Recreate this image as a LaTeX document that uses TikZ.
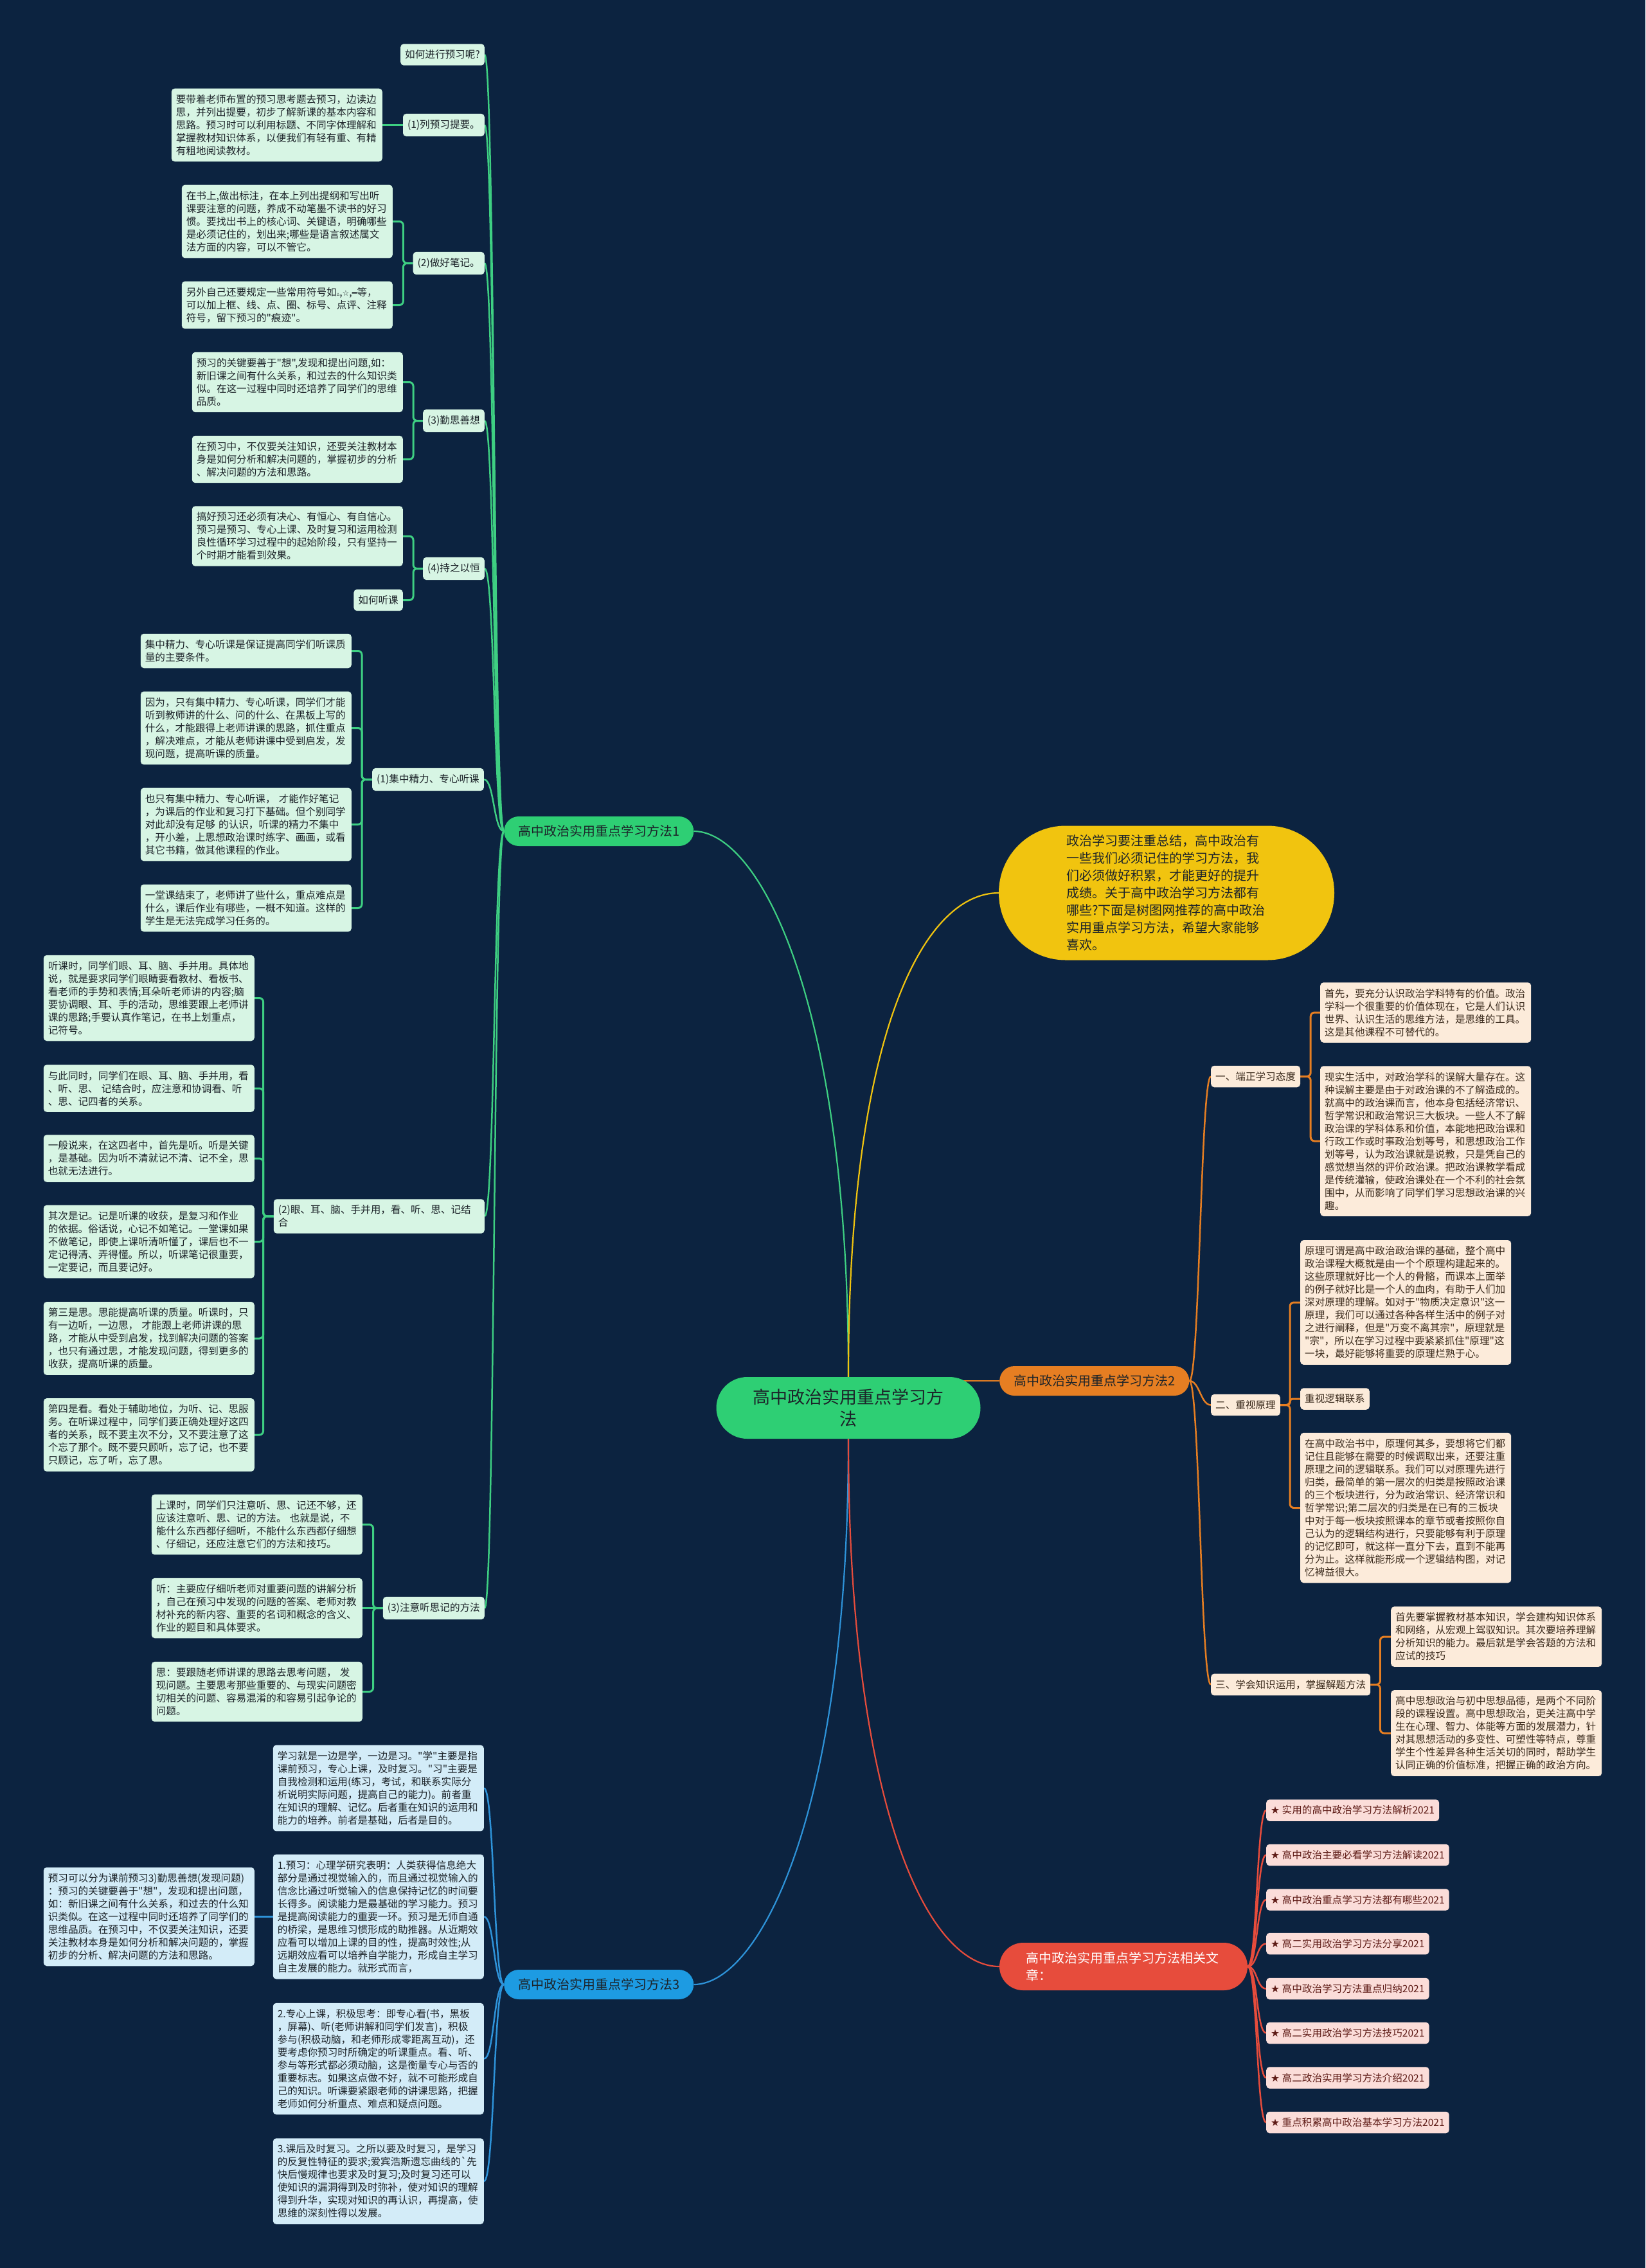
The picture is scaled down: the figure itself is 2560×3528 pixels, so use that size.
\documentclass[tikz,border=0pt]{standalone}
\usepackage{fontspec}
\setmainfont{Noto Sans CJK SC}[Ligatures=TeXOff]
\newfontfamily\symfont{DejaVu Sans}
\usetikzlibrary{positioning}
\definecolor{NavyBg}{HTML}{0C2340}
\definecolor{LeafGreen}{HTML}{D7F5E4}
\definecolor{MintLine}{HTML}{3ECF82}
\definecolor{MainGreen}{HTML}{2ECF74}
\definecolor{GoldFill}{HTML}{F1C40F}
\definecolor{AmberFill}{HTML}{E67E22}
\definecolor{PeachLeaf}{HTML}{FCEBDA}
\definecolor{SkyFill}{HTML}{1D9BE2}
\definecolor{SkyLine}{HTML}{2E93D9}
\definecolor{IceLeaf}{HTML}{D3ECF8}
\definecolor{CoralFill}{HTML}{E74C3C}
\definecolor{RoseLeaf}{HTML}{FBDDD9}
\definecolor{InkDark}{HTML}{1C2329}
\definecolor{InkBrown}{HTML}{3A2A1C}
\definecolor{InkRed}{HTML}{5E1B16}
\newcommand{\leaffont}{\fontsize{15.6pt}{20pt}\selectfont}
\newcommand{\branchfont}{\fontsize{20pt}{27pt}\selectfont}
\newcommand{\rootfont}{\fontsize{27pt}{34pt}\selectfont}
\newcommand{\dvs}[1]{{\symfont #1}}
\pgfdeclarelayer{canvas}
\pgfdeclarelayer{links}
\pgfsetlayers{canvas,links,main}

\begin{document}
\begin{tikzpicture}[x=1pt,y=-1pt,
  box/.style={rounded corners=5pt,inner xsep=7pt,inner ysep=9.5pt,font=\leaffont,align=left,text=InkDark},
  leaf/.style={box,text width=314pt},
  pill/.style={rounded corners=23pt,minimum height=46pt,inner xsep=22pt,inner ysep=4pt,font=\branchfont,text=InkDark},
  gbox/.style={fill=LeafGreen},
  obox/.style={fill=PeachLeaf,text=InkBrown},
  bbox/.style={fill=IceLeaf},
  rbox/.style={fill=RoseLeaf,text=InkRed},
  rootlink/.style={line width=2.2pt},
  link/.style={line width=2.5pt},
  elbow/.style={line width=3pt,rounded corners=6pt}]
  \useasboundingbox (0,0) rectangle (2560,3528);
  \begin{pgfonlayer}{canvas}
    \fill[NavyBg] (0,0) rectangle (2560,3528);
  \end{pgfonlayer}

  \node[fill=MainGreen,text=InkDark,rounded corners=48pt,minimum width=411pt,minimum height=96pt,text width=300pt,align=center,font=\rootfont] (root) at (1320,2190) {高中政治实用重点学习方\\法};
  \node[fill=GoldFill,text=InkDark,rounded corners=104pt,minimum width=522pt,minimum height=209pt,text width=312pt,align=left,font=\branchfont] (intro) at (1815,1389) {政治学习要注重总结，高中政治有\\一些我们必须记住的学习方法，我\\们必须做好积累，才能更好的提升\\成绩。关于高中政治学习方法都有\\哪些?下面是树图网推荐的高中政治\\实用重点学习方法，希望大家能够\\喜欢。};
  \node[pill,fill=MainGreen,anchor=west] (b1) at (784,1293) {高中政治实用重点学习方法1};
  \node[pill,fill=AmberFill,anchor=west] (b2) at (1555,2148) {高中政治实用重点学习方法2};
  \node[pill,fill=SkyFill,anchor=west] (b3) at (784,3087) {高中政治实用重点学习方法3};
  \node[fill=CoralFill,text=white,rounded corners=37pt,minimum width=386pt,minimum height=74pt,text width=304pt,align=left,font=\branchfont] (b4) at (1748,3059) {高中政治实用重点学习方法相关文\\章：};

  \node[box,gbox,anchor=east] (pre) at (754,85) {如何进行预习呢?};
  \node[box,gbox,anchor=east] (p1) at (754,194.5) {(1)列预习提要。};
  \node[leaf,gbox,anchor=east] (p1a) at (595,194.5) {要带着老师布置的预习思考题去预习，边读边\\思，并列出提要，初步了解新课的基本内容和\\思路。预习时可以利用标题、不同字体理解和\\掌握教材知识体系，以便我们有轻有重、有精\\有粗地阅读教材。};
  \node[box,gbox,anchor=east] (p2) at (754,409.5) {(2)做好笔记。};
  \node[leaf,gbox,anchor=east] (p2a) at (611,344.5) {在书上,做出标注，在本上列出提纲和写出听\\课要注意的问题，养成不动笔墨不读书的好习\\惯。要找出书上的核心词、关键语，明确哪些\\是必须记住的，划出来;哪些是语言叙述属文\\法方面的内容，可以不管它。};
  \node[leaf,gbox,anchor=east] (p2b) at (611,474.5) {另外自己还要规定一些常用符号如{\symfont\fontsize{9pt}{20pt}\selectfont ▵},{\symfont\fontsize{12pt}{20pt}\selectfont ☆},{\symfont\fontsize{13pt}{20pt}\selectfont ━}等，\\可以加上框、线、点、圈、标号、点评、注释\\符号，留下预习的"痕迹"。};
  \node[box,gbox,anchor=east] (p3) at (754,654.5) {(3)勤思善想};
  \node[leaf,gbox,anchor=east] (p3a) at (627,594.5) {预习的关键要善于"想",发现和提出问题,如：\\新旧课之间有什么关系，和过去的什么知识类\\似。在这一过程中同时还培养了同学们的思维\\品质。};
  \node[leaf,gbox,anchor=east] (p3b) at (627,714.5) {在预习中，不仅要关注知识，还要关注教材本\\身是如何分析和解决问题的，掌握初步的分析\\、解决问题的方法和思路。};
  \node[box,gbox,anchor=east] (p4) at (754,884.5) {(4)持之以恒};
  \node[leaf,gbox,anchor=east] (p4a) at (627,834) {搞好预习还必须有决心、有恒心、有自信心。\\预习是预习、专心上课、及时复习和运用检测\\良性循环学习过程中的起始阶段，只有坚持一\\个时期才能看到效果。};
  \node[box,gbox,anchor=east] (p4b) at (627,933.5) {如何听课};
  \node[box,gbox,anchor=east] (t1) at (753,1212.5) {(1)集中精力、专心听课};
  \node[leaf,gbox,anchor=east] (t1a) at (547,1012.5) {集中精力、专心听课是保证提高同学们听课质\\量的主要条件。};
  \node[leaf,gbox,anchor=east] (t1b) at (547,1132.5) {因为，只有集中精力、专心听课，同学们才能\\听到教师讲的什么、问的什么、在黑板上写的\\什么，才能跟得上老师讲课的思路，抓住重点\\，解决难点，才能从老师讲课中受到启发，发\\现问题，提高听课的质量。};
  \node[leaf,gbox,anchor=east] (t1c) at (547,1282.5) {也只有集中精力、专心听课， 才能作好笔记\\，为课后的作业和复习打下基础。但个别同学\\对此却没有足够 的认识，听课的精力不集中\\，开小差，上思想政治课时练字、画画，或看\\其它书籍，做其他课程的作业。};
  \node[leaf,gbox,anchor=east] (t1d) at (547,1412.5) {一堂课结束了，老师讲了些什么，重点难点是\\什么，课后作业有哪些，一概不知道。这样的\\学生是无法完成学习任务的。};
  \node[leaf,gbox,anchor=east] (t2) at (754,1892) {(2)眼、耳、脑、手并用，看、听、思、记结\\合};
  \node[leaf,gbox,anchor=east] (t2a) at (396,1552.5) {听课时，同学们眼、耳、脑、手并用。具体地\\说，就是要求同学们眼睛要看教材、看板书、\\看老师的手势和表情;耳朵听老师讲的内容;脑\\要协调眼、耳、手的活动，思维要跟上老师讲\\课的思路;手要认真作笔记，在书上划重点，\\记符号。};
  \node[leaf,gbox,anchor=east] (t2b) at (396,1693) {与此同时，同学们在眼、耳、脑、手并用，看\\、听、思、 记结合时，应注意和协调看、听\\、思、记四者的关系。};
  \node[leaf,gbox,anchor=east] (t2c) at (396,1802) {一般说来，在这四者中，首先是听。听是关键\\，是基础。因为听不清就记不清、记不全，思\\也就无法进行。};
  \node[leaf,gbox,anchor=east] (t2d) at (396,1931.5) {其次是记。记是听课的收获，是复习和作业\\的依据。俗话说，心记不如笔记。一堂课如果\\不做笔记，即使上课听清听懂了，课后也不一\\定记得清、弄得懂。所以，听课笔记很重要，\\一定要记，而且要记好。};
  \node[leaf,gbox,anchor=east] (t2e) at (396,2082) {第三是思。思能提高听课的质量。听课时，只\\有一边听，一边思， 才能跟上老师讲课的思\\路，才能从中受到启发，找到解决问题的答案\\，也只有通过思，才能发现问题，得到更多的\\收获，提高听课的质量。};
  \node[leaf,gbox,anchor=east] (t2f) at (396,2232) {第四是看。看处于辅助地位，为听、记、思服\\务。在听课过程中，同学们要正确处理好这四\\者的关系，既不要主次不分，又不要注意了这\\个忘了那个。既不要只顾听，忘了记，也不要\\只顾记，忘了听，忘了思。};
  \node[box,gbox,anchor=east] (t3) at (754,2501.5) {(3)注意听思记的方法};
  \node[leaf,gbox,anchor=east] (t3a) at (564,2371.5) {上课时，同学们只注意听、思、记还不够，还\\应该注意听、思、记的方法。 也就是说，不\\能什么东西都仔细听，不能什么东西都仔细想\\、仔细记，还应注意它们的方法和技巧。};
  \node[leaf,gbox,anchor=east] (t3b) at (564,2501.5) {听：主要应仔细听老师对重要问题的讲解分析\\，自己在预习中发现的问题的答案、老师对教\\材补充的新内容、重要的名词和概念的含义、\\作业的题目和具体要求。};
  \node[leaf,gbox,anchor=east] (t3c) at (564,2631.5) {思：要跟随老师讲课的思路去思考问题， 发\\现问题。主要思考那些重要的、与现实问题密\\切相关的问题、容易混淆的和容易引起争论的\\问题。};

  \node[leaf,bbox,anchor=east] (s0) at (753,2781.5) {学习就是一边是学，一边是习。"学"主要是指\\课前预习，专心上课，及时复习。"习"主要是\\自我检测和运用(练习，考试，和联系实际分\\析说明实际问题，提高自己的能力)。前者重\\在知识的理解、记忆。后者重在知识的运用和\\能力的培养。前者是基础，后者是目的。};
  \node[leaf,bbox,anchor=east] (s1) at (753,2981.5) {1.预习：心理学研究表明：人类获得信息绝大\\部分是通过视觉输入的，而且通过视觉输入的\\信念比通过听觉输入的信息保持记忆的时间要\\长得多。阅读能力是最基础的学习能力。预习\\是提高阅读能力的重要一环。预习是无师自通\\的桥梁，是思维习惯形成的助推器。从近期效\\应看可以增加上课的目的性，提高时效性;从\\远期效应看可以培养自学能力，形成自主学习\\自主发展的能力。就形式而言，};
  \node[leaf,bbox,anchor=east] (s1a) at (396,2981.5) {预习可以分为课前预习3)勤思善想(发现问题)\\：预习的关键要善于"想"，发现和提出问题，\\如：新旧课之间有什么关系，和过去的什么知\\识类似。在这一过程中同时还培养了同学们的\\思维品质。在预习中，不仅要关注知识，还要\\关注教材本身是如何分析和解决问题的，掌握\\初步的分析、解决问题的方法和思路。};
  \node[leaf,bbox,anchor=east] (s2) at (753,3202.5) {2.专心上课，积极思考：即专心看(书，黑板\\，屏幕)、听(老师讲解和同学们发言)，积极\\参与(积极动脑，和老师形成零距离互动)，还\\要考虑你预习时所确定的听课重点。看、听、\\参与等形式都必须动脑，这是衡量专心与否的\\重要标志。如果这点做不好，就不可能形成自\\己的知识。听课要紧跟老师的讲课思路，把握\\老师如何分析重点、难点和疑点问题。};
  \node[leaf,bbox,anchor=east] (s3) at (753,3393) {3.课后及时复习。之所以要及时复习，是学习\\的反复性特征的要求;爱宾浩斯遗忘曲线的\textasciigrave 先\\快后慢规律也要求及时复习;及时复习还可以\\使知识的漏洞得到及时弥补，使对知识的理解\\得到升华，实现对知识的再认识，再提高，使\\思维的深刻性得以发展。};

  \node[box,obox,anchor=west] (o1) at (1884,1674.5) {一、端正学习态度};
  \node[leaf,obox,anchor=west] (o1a) at (2054,1575) {首先，要充分认识政治学科特有的价值。政治\\学科一个很重要的价值体现在，它是人们认识\\世界、认识生活的思维方法，是思维的工具。\\这是其他课程不可替代的。};
  \node[leaf,obox,anchor=west] (o1b) at (2054,1775) {现实生活中，对政治学科的误解大量存在。这\\种误解主要是由于对政治课的不了解造成的。\\就高中的政治课而言，他本身包括经济常识、\\哲学常识和政治常识三大板块。一些人不了解\\政治课的学科体系和价值，本能地把政治课和\\行政工作或时事政治划等号，和思想政治工作\\划等号，认为政治课就是说教，只是凭自己的\\感觉想当然的评价政治课。把政治课教学看成\\是传统灌输，使政治课处在一个不利的社会氛\\围中，从而影响了同学们学习思想政治课的兴\\趣。};
  \node[box,obox,anchor=west] (o2) at (1884,2185.5) {二、重视原理};
  \node[leaf,obox,anchor=west] (o2a) at (2023,2026) {原理可谓是高中政治政治课的基础，整个高中\\政治课程大概就是由一个个原理构建起来的。\\这些原理就好比一个人的骨骼，而课本上面举\\的例子就好比是一个人的血肉，有助于人们加\\深对原理的理解。如对于"物质决定意识"这一\\原理，我们可以通过各种各样生活中的例子对\\之进行阐释，但是"万变不离其宗"，原理就是\\"宗"，所以在学习过程中要紧紧抓住"原理"这\\一块，最好能够将重要的原理烂熟于心。};
  \node[box,obox,anchor=west] (o2b) at (2023,2176) {重视逻辑联系};
  \node[leaf,obox,anchor=west] (o2c) at (2023,2345.5) {在高中政治书中，原理何其多，要想将它们都\\记住且能够在需要的时候调取出来，还要注重\\原理之间的逻辑联系。我们可以对原理先进行\\归类，最简单的第一层次的归类是按照政治课\\的三个板块进行，分为政治常识、经济常识和\\哲学常识;第二层次的归类是在已有的三板块\\中对于每一板块按照课本的章节或者按照你自\\己认为的逻辑结构进行，只要能够有利于原理\\的记忆即可，就这样一直分下去，直到不能再\\分为止。这样就能形成一个逻辑结构图，对记\\忆裨益很大。};
  \node[box,obox,anchor=west] (o3) at (1884,2620.5) {三、学会知识运用，掌握解题方法};
  \node[leaf,obox,anchor=west] (o3a) at (2164,2546) {首先要掌握教材基本知识，学会建构知识体系\\和网络，从宏观上驾驭知识。其次要培养理解\\分析知识的能力。最后就是学会答题的方法和\\应试的技巧};
  \node[leaf,obox,anchor=west] (o3b) at (2164,2696) {高中思想政治与初中思想品德，是两个不同阶\\段的课程设置。高中思想政治，更关注高中学\\生在心理、智力、体能等方面的发展潜力，针\\对其思想活动的多变性、可塑性等特点，尊重\\学生个性差异各种生活关切的同时，帮助学生\\认同正确的价值标准，把握正确的政治方向。};

  \node[box,rbox,anchor=west] (r1) at (1970,2816) {\dvs{★} 实用的高中政治学习方法解析2021};
  \node[box,rbox,anchor=west] (r2) at (1970,2885.5) {\dvs{★} 高中政治主要必看学习方法解读2021};
  \node[box,rbox,anchor=west] (r3) at (1970,2955) {\dvs{★} 高中政治重点学习方法都有哪些2021};
  \node[box,rbox,anchor=west] (r4) at (1970,3023.5) {\dvs{★} 高二实用政治学习方法分享2021};
  \node[box,rbox,anchor=west] (r5) at (1970,3093.5) {\dvs{★} 高中政治学习方法重点归纳2021};
  \node[box,rbox,anchor=west] (r6) at (1970,3162.5) {\dvs{★} 高二实用政治学习方法技巧2021};
  \node[box,rbox,anchor=west] (r7) at (1970,3232) {\dvs{★} 高二政治实用学习方法介绍2021};
  \node[box,rbox,anchor=west] (r8) at (1970,3301.5) {\dvs{★} 重点积累高中政治基本学习方法2021};

  \begin{pgfonlayer}{links}
    \draw[rootlink,MintLine] (root.north) .. controls +(0,-590) and +(100,0) .. (b1.east);
    \draw[rootlink,GoldFill] (root.north) .. controls +(0,-540) and +(-115,0) .. (intro.west);
    \draw[rootlink,AmberFill] (b2.west) -- (root.center |- b2.west);
    \draw[rootlink,SkyLine] (root.south) .. controls +(0,590) and +(100,0) .. (b3.east);
    \draw[rootlink,CoralFill] (root.south) .. controls +(0,560) and +(-115,0) .. (b4.west);

    \draw[link,MintLine] (pre.east) .. controls +(16,0) and +(-16,0) .. (b1.west);
    \draw[link,MintLine] (p1.east) .. controls +(16,0) and +(-16,0) .. (b1.west);
    \draw[link,MintLine] (p2.east) .. controls +(16,0) and +(-16,0) .. (b1.west);
    \draw[link,MintLine] (p3.east) .. controls +(16,0) and +(-16,0) .. (b1.west);
    \draw[link,MintLine] (p4.east) .. controls +(16,0) and +(-16,0) .. (b1.west);
    \draw[link,MintLine] (t1.east) .. controls +(16,0) and +(-16,0) .. (b1.west);
    \draw[link,MintLine] (t2.east) .. controls +(16,0) and +(-16,0) .. (b1.west);
    \draw[link,MintLine] (t3.east) .. controls +(16,0) and +(-16,0) .. (b1.west);

    \draw[elbow,MintLine] (p1.west) -- (p1a.east);
    \draw[elbow,MintLine] (p2.west) -- ++(-15,0) |- (p2a.east);
    \draw[elbow,MintLine] (p2.west) -- ++(-15,0) |- (p2b.east);
    \draw[elbow,MintLine] (p3.west) -- ++(-15,0) |- (p3a.east);
    \draw[elbow,MintLine] (p3.west) -- ++(-15,0) |- (p3b.east);
    \draw[elbow,MintLine] (p4.west) -- ++(-15,0) |- (p4a.east);
    \draw[elbow,MintLine] (p4.west) -- ++(-15,0) |- (p4b.east);
    \draw[elbow,MintLine] (t1.west) -- ++(-16,0) |- (t1a.east);
    \draw[elbow,MintLine] (t1.west) -- ++(-16,0) |- (t1b.east);
    \draw[elbow,MintLine] (t1.west) -- ++(-16,0) |- (t1c.east);
    \draw[elbow,MintLine] (t1.west) -- ++(-16,0) |- (t1d.east);
    \draw[elbow,MintLine] (t2.west) -- ++(-16,0) |- (t2a.east);
    \draw[elbow,MintLine] (t2.west) -- ++(-16,0) |- (t2b.east);
    \draw[elbow,MintLine] (t2.west) -- ++(-16,0) |- (t2c.east);
    \draw[elbow,MintLine] (t2.west) -- ++(-16,0) |- (t2d.east);
    \draw[elbow,MintLine] (t2.west) -- ++(-16,0) |- (t2e.east);
    \draw[elbow,MintLine] (t2.west) -- ++(-16,0) |- (t2f.east);
    \draw[elbow,MintLine] (t3.west) -- ++(-15,0) |- (t3a.east);
    \draw[elbow,MintLine] (t3.west) -- (t3b.east);
    \draw[elbow,MintLine] (t3.west) -- ++(-15,0) |- (t3c.east);

    \draw[link,SkyLine] (s0.east) .. controls +(16,0) and +(-16,0) .. (b3.west);
    \draw[link,SkyLine] (s1.east) .. controls +(16,0) and +(-16,0) .. (b3.west);
    \draw[link,SkyLine] (s2.east) .. controls +(16,0) and +(-16,0) .. (b3.west);
    \draw[link,SkyLine] (s3.east) .. controls +(16,0) and +(-16,0) .. (b3.west);
    \draw[elbow,SkyLine] (s1.west) -- (s1a.east);

    \draw[link,AmberFill] (b2.east) .. controls +(16,0) and +(-16,0) .. (o1.west);
    \draw[link,AmberFill] (b2.east) .. controls +(16,0) and +(-16,0) .. (o2.west);
    \draw[link,AmberFill] (b2.east) .. controls +(16,0) and +(-16,0) .. (o3.west);
    \draw[elbow,AmberFill] (o1.east) -- ++(16,0) |- (o1a.west);
    \draw[elbow,AmberFill] (o1.east) -- ++(16,0) |- (o1b.west);
    \draw[elbow,AmberFill] (o2.east) -- ++(15,0) |- (o2a.west);
    \draw[elbow,AmberFill,rounded corners=4pt] (o2.east) -- ++(15,0) |- (o2b.west);
    \draw[elbow,AmberFill] (o2.east) -- ++(15,0) |- (o2c.west);
    \draw[elbow,AmberFill] (o3.east) -- ++(15,0) |- (o3a.west);
    \draw[elbow,AmberFill] (o3.east) -- ++(15,0) |- (o3b.west);

    \draw[link,CoralFill] (b4.east) .. controls +(15,0) and +(-15,0) .. (r1.west);
    \draw[link,CoralFill] (b4.east) .. controls +(15,0) and +(-15,0) .. (r2.west);
    \draw[link,CoralFill] (b4.east) .. controls +(15,0) and +(-15,0) .. (r3.west);
    \draw[link,CoralFill] (b4.east) .. controls +(15,0) and +(-15,0) .. (r4.west);
    \draw[link,CoralFill] (b4.east) .. controls +(15,0) and +(-15,0) .. (r5.west);
    \draw[link,CoralFill] (b4.east) .. controls +(15,0) and +(-15,0) .. (r6.west);
    \draw[link,CoralFill] (b4.east) .. controls +(15,0) and +(-15,0) .. (r7.west);
    \draw[link,CoralFill] (b4.east) .. controls +(15,0) and +(-15,0) .. (r8.west);
  \end{pgfonlayer}
\end{tikzpicture}
\end{document}
